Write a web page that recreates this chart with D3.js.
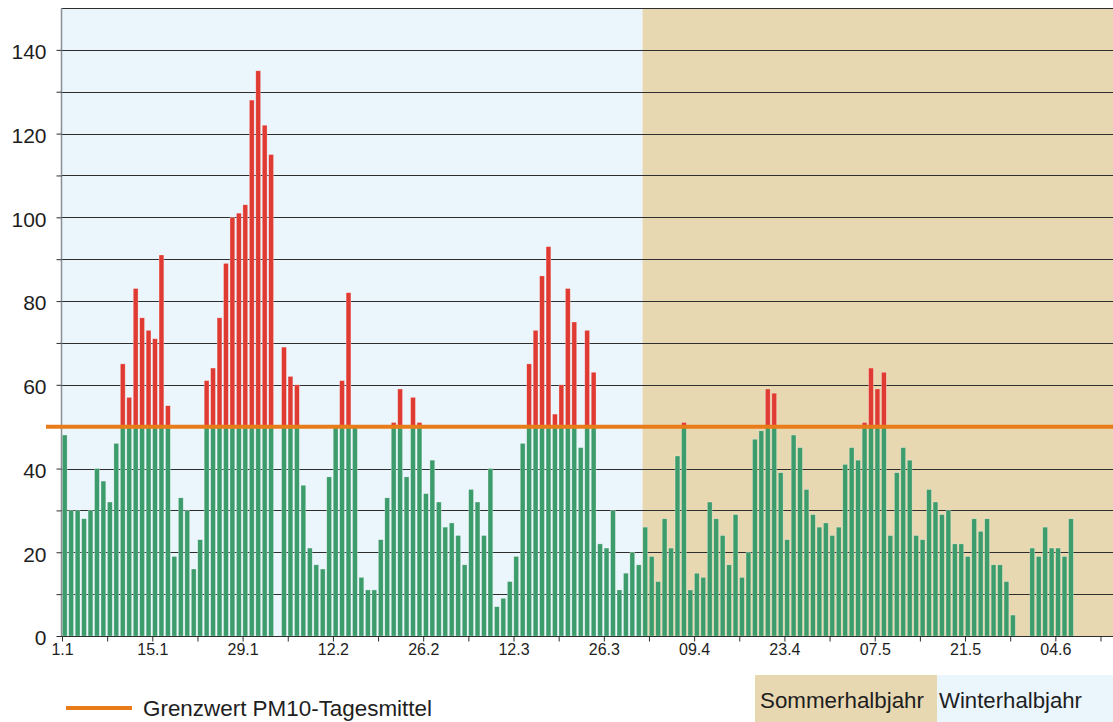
<!DOCTYPE html>
<html>
<head>
<meta charset="utf-8">
<script src="https://cdn.jsdelivr.net/npm/d3@7"></script>
<style>
  html, body { margin: 0; padding: 0; background: #ffffff; }
  svg { display: block; font-family: "Liberation Sans", Arial, sans-serif; }
</style>
</head>
<body>
<svg id="chart" width="1113" height="722"></svg>
<script>
// PM10 daily means, one value per day starting 1 January (null = no measurement)
const pm10Values = [
  48, 30, 30, 28, 30, 40, 37, 32, 46, 65, 57, 83, 76, 73, 71, 91, 55, 19, 33, 30,
  16, 23, 61, 64, 76, 89, 100, 101, 103, 128, 135, 122, 115, null, 69, 62, 60, 36, 21, 17,
  16, 38, 50, 61, 82, 50, 14, 11, 11, 23, 33, 51, 59, 38, 57, 51, 34, 42, 32, 26,
  27, 24, 17, 35, 32, 24, 40, 7, 9, 13, 19, 46, 65, 73, 86, 93, 53, 60, 83, 75,
  45, 73, 63, 22, 21, 30, 11, 15, 20, 17, 26, 19, 13, 28, 21, 43, 51, 11, 15, 14,
  32, 28, 24, 17, 29, 14, 20, 47, 49, 59, 58, 39, 23, 48, 45, 35, 29, 26, 27, 24,
  26, 41, 45, 42, 51, 64, 59, 63, 24, 39, 45, 42, 24, 23, 35, 32, 29, 30, 22, 22,
  19, 28, 25, 28, 17, 17, 13, 5, null, null, 21, 19, 26, 21, 21, 19, 28
];
const dayCount = 163;                 // days shown on the x axis
const tickDays = [0, 14, 28, 42, 56, 70, 84, 98, 112, 126, 140, 154];
const tickLabels = ["1.1", "15.1", "29.1", "12.2", "26.2", "12.3", "26.3", "09.4", "23.4", "07.5", "21.5", "04.6"];
const minorTickDays = [7, 21, 35, 49, 63, 77, 91, 105, 119, 133, 147, 161];
const yTicks = [0, 20, 40, 60, 80, 100, 120, 140];
const gridValues = [10, 20, 30, 40, 50, 60, 70, 80, 90, 100, 110, 120, 130, 140, 150];
const limitValue = 50;
const summerStartDay = 90;            // 1 April
const legendLimitLabel = "Grenzwert PM10-Tagesmittel";
const seasonLabels = ["Sommerhalbjahr", "Winterhalbjahr"];

const colors = {
  green: "#3d9c6b", red: "#e03b33", orange: "#e87c1a",
  winter: "#eaf5fc", summer: "#e8d8b2", grid: "#2e2e2e", text: "#1e1e1e"
};

const svg = d3.select("#chart");
const x = d3.scaleLinear().domain([0, dayCount]).range([62, 1113.4]);
const y = d3.scaleLinear().domain([0, 150]).range([636, 8]);
const left = 61, right = 1113;

// backgrounds
svg.append("rect").attr("x", left).attr("y", y(150))
  .attr("width", x(summerStartDay) - left).attr("height", y(0) - y(150))
  .attr("fill", colors.winter);
svg.append("rect").attr("x", x(summerStartDay)).attr("y", y(150))
  .attr("width", right - x(summerStartDay)).attr("height", y(0) - y(150))
  .attr("fill", colors.summer);

// gridlines
svg.append("g").selectAll("line").data(gridValues).join("line")
  .attr("x1", left).attr("x2", right)
  .attr("y1", d => Math.round(y(d)) + 0.5).attr("y2", d => Math.round(y(d)) + 0.5)
  .attr("stroke", colors.grid).attr("stroke-width", 1);

// bars
const data = pm10Values.map((v, i) => ({ day: i, v })).filter(d => d.v !== null);
const bw = 4.8;
const barG = svg.append("g");
barG.selectAll("rect.g").data(data).join("rect")
  .attr("x", d => x(d.day) + 0.3).attr("width", bw)
  .attr("y", d => y(Math.min(d.v, limitValue)))
  .attr("height", d => y(0) - y(Math.min(d.v, limitValue)))
  .attr("fill", colors.green)
  .attr("stroke", "rgba(255,255,255,0.45)").attr("stroke-width", 0.6);
barG.selectAll("rect.r").data(data.filter(d => d.v > limitValue)).join("rect")
  .attr("x", d => x(d.day) + 0.3).attr("width", bw)
  .attr("y", d => y(d.v))
  .attr("height", d => y(limitValue) - y(d.v))
  .attr("fill", colors.red)
  .attr("stroke", "rgba(255,255,255,0.45)").attr("stroke-width", 0.6);

// y axis
const yAxis = d3.axisLeft(y).tickValues(d3.range(0, 150, 10)).tickSize(5)
  .tickFormat(d => yTicks.includes(d) ? d : "");
const yg = svg.append("g").attr("transform", `translate(${left + 0.5},0)`).call(yAxis);
yg.select(".domain").attr("stroke", "#8a8f94").attr("stroke-width", 1.5)
  .attr("d", `M0,${y(150)}V${y(0)}`);
yg.selectAll(".tick line").attr("stroke", colors.grid);
yg.selectAll(".tick text").attr("font-size", 21).attr("fill", colors.text)
  .attr("x", -15).attr("dy", "0.42em").attr("font-family", "Liberation Sans, Arial, sans-serif");

// x axis
const xAxis = d3.axisBottom(x).tickValues(tickDays.concat(minorTickDays)).tickSize(5)
  .tickFormat(d => { const k = tickDays.indexOf(d); return k >= 0 ? tickLabels[k] : ""; });
const xg = svg.append("g").attr("transform", `translate(0,${y(0) + 0.5})`).call(xAxis);
xg.select(".domain").attr("stroke", colors.grid).attr("d", `M${left},0H${right}`);
xg.selectAll(".tick line").attr("stroke", colors.grid);
xg.selectAll(".tick text").attr("font-size", 16).attr("fill", colors.text)
  .attr("y", 7).attr("font-family", "Liberation Sans, Arial, sans-serif");

// limit line
svg.append("line").attr("x1", 46).attr("x2", right)
  .attr("y1", y(limitValue)).attr("y2", y(limitValue))
  .attr("stroke", colors.orange).attr("stroke-width", 4);

// legend
svg.append("line").attr("x1", 66).attr("x2", 132).attr("y1", 708).attr("y2", 708)
  .attr("stroke", colors.orange).attr("stroke-width", 4);
svg.append("text").attr("x", 143).attr("y", 716).attr("font-size", 21.5)
  .attr("textLength", 289).attr("lengthAdjust", "spacingAndGlyphs")
  .attr("fill", colors.text).text(legendLimitLabel);

svg.append("rect").attr("x", 755).attr("y", 675).attr("width", 182).attr("height", 47)
  .attr("fill", colors.summer);
svg.append("rect").attr("x", 937).attr("y", 675).attr("width", 176).attr("height", 47)
  .attr("fill", colors.winter);
svg.append("text").attr("x", 760).attr("y", 708).attr("font-size", 21.5)
  .attr("textLength", 164).attr("lengthAdjust", "spacingAndGlyphs")
  .attr("fill", colors.text).text(seasonLabels[0]);
svg.append("text").attr("x", 939).attr("y", 708).attr("font-size", 21.5)
  .attr("textLength", 143).attr("lengthAdjust", "spacingAndGlyphs")
  .attr("fill", colors.text).text(seasonLabels[1]);
</script>
</body>
</html>
